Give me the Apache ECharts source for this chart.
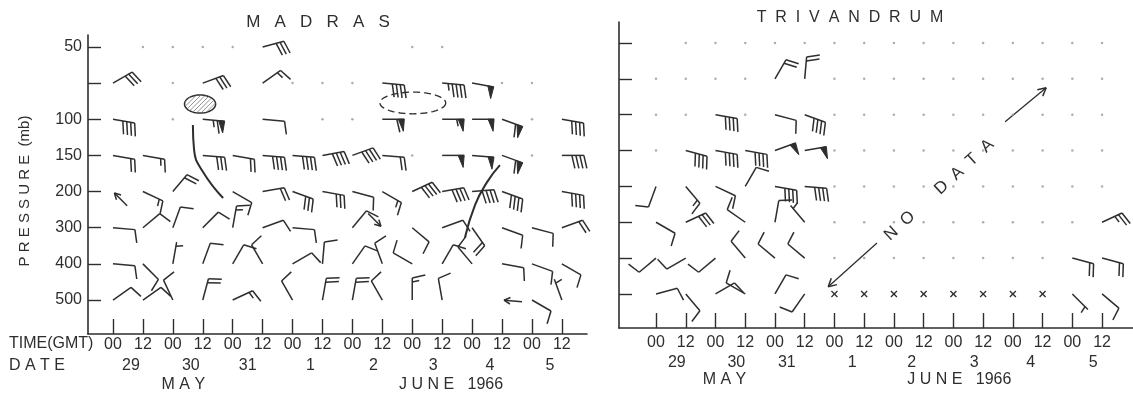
<!DOCTYPE html>
<html>
<head>
<meta charset="utf-8">
<script src="https://cdn.jsdelivr.net/npm/echarts@6/dist/echarts.min.js"></script>
<style>
  html, body { margin: 0; padding: 0; background: #fff; }
  #chart { width: 1133px; height: 394px; }
</style>
</head>
<body>
<div id="chart"></div>
<script>
// time axis: 29 May 00 GMT .. 5 June 12 GMT, one tick per sounding
const timeTicks = [0, 1, 2, 3, 4, 5, 6, 7, 8, 9, 10, 11, 12, 13, 14, 15];
const timeLabels = ['00', '12', '00', '12', '00', '12', '00', '12', '00', '12', '00', '12', '00', '12', '00', '12'];
const dateLabels = ['29', '30', '31', '1', '2', '3', '4', '5'];
const madrasDatePos = [0.6, 2.6, 4.5, 6.6, 8.7, 10.7, 12.6, 14.6];
const trivDatePos = [0.7, 2.7, 4.4, 6.6, 8.6, 10.7, 12.6, 14.7];
const monthLabels = ['M A Y', 'J U N E   1966'];
const madrasMonthPos = [2.35, 11.3];
const trivMonthPos = [2.3, 10.2];

// pressure levels (mb), top to bottom
const levels = ['50', '70', '100', '150', '200', '300', '400', '500'];
const levelTicks = [0, 1, 2, 3, 4, 5, 6, 7];
const levelLabelTicks = [0, 2, 3, 4, 5, 6, 7];

// winds: [time index, direction (deg, from), speed (kt)]
const madras50 = [[5, 75, 30]];
const madras70 = [[0, 60, 30], [3, 70, 30], [5, 55, 15], [9, 95, 40], [11, 95, 45], [12, 100, 50]];
const madras100 = [[0, 100, 40], [3, 95, 65], [5, 95, 10], [9, 90, 60], [11, 90, 55], [12, 90, 50], [13, 110, 60], [15, 100, 40]];
const madras150 = [[0, 100, 20], [1, 100, 15], [3, 95, 30], [4, 100, 20], [5, 95, 40], [6, 95, 40], [7, 80, 40], [8, 70, 40], [9, 95, 20], [11, 90, 50], [12, 95, 50], [13, 110, 60], [15, 90, 40]];
const madras200 = [[1, 115, 15], [2, 40, 20], [4, 120, 10], [5, 80, 20], [6, 110, 30], [7, 100, 30], [8, 105, 10], [9, 120, 15], [10, 65, 40], [11, 80, 40], [12, 85, 40], [13, 110, 40], [15, 100, 40]];
const madras300 = [[0, 95, 10], [1, 50, 10], [2, 20, 10], [3, 45, 10], [4, 10, 15], [5, 70, 10], [6, 95, 10], [8, 40, 10], [10, 130, 10], [11, 70, 10], [12, 145, 20], [13, 110, 10], [14, 105, 10], [15, 70, 20]];
const madras400 = [[0, 95, 10], [1, 135, 10], [2, 10, 5], [3, 20, 10], [4, 30, 10], [5, 330, 10], [6, 60, 10], [7, 5, 10], [8, 35, 10], [9, 340, 10], [10, 300, 10], [11, 30, 10], [12, 320, 10], [13, 100, 10], [14, 110, 10], [15, 120, 10]];
const madras500 = [[0, 55, 10], [1, 55, 10], [2, 335, 10], [3, 15, 20], [4, 65, 15], [6, 330, 10], [7, 10, 20], [8, 10, 20], [9, 330, 10], [10, 0, 15], [11, 350, 10], [14, 120, 10], [15, 340, 5]];
// light winds shown as arrows: [time index, level index, direction from]
const madrasArrows = [[0, 4, 135], [9, 5, 315], [13, 7, 95]];
// soundings with no wind at that level: [time index, level index]
const madrasDots = [[1, 0], [2, 0], [3, 0], [4, 0], [10, 0], [11, 0], [2, 1], [6, 1], [7, 1], [8, 1], [13, 1], [14, 1], [2, 2], [7, 2], [8, 2], [14, 2], [10, 3], [14, 3]];

const triv70 = [[4, 30, 20], [5, 5, 20]];
const triv100 = [[2, 100, 40], [4, 105, 10], [5, 110, 40]];
const triv150 = [[1, 105, 40], [2, 100, 40], [3, 100, 40], [4, 70, 50], [5, 80, 50]];
const triv200 = [[0, 200, 10], [1, 140, 15], [2, 115, 10], [3, 30, 10], [4, 100, 40], [5, 95, 40]];
const triv300 = [[0, 120, 10], [1, 65, 30], [3, 305, 10], [4, 10, 10], [5, 320, 5], [15, 65, 25]];
const triv400 = [[0, 230, 10], [1, 240, 10], [2, 230, 10], [3, 320, 10], [4, 310, 10], [5, 310, 10], [14, 105, 20], [15, 105, 20]];
const triv500 = [[0, 75, 10], [1, 140, 10], [2, 60, 10], [3, 300, 10], [4, 30, 10], [5, 215, 10], [14, 135, 5], [15, 130, 10]];
// Trivandrum dots per level (time indices) and missing 500 mb reports (x)
const trivDotCols = [
  [1, 2, 3, 4, 5, 6, 7, 8, 9, 10, 11, 12, 13, 14, 15],
  [0, 1, 2, 3, 6, 7, 8, 9, 10, 11, 12, 13, 14, 15],
  [0, 1, 3, 6, 7, 8, 9, 10, 11, 12, 13, 14, 15],
  [0, 6, 7, 8, 9, 10, 11, 12, 13, 14, 15],
  [6, 7, 8, 9, 10, 11, 12, 13, 14, 15],
  [6, 7, 8, 9, 10, 11, 12, 13, 14],
  [6, 7, 8, 9, 10, 11, 12, 13],
  []
];
const trivCrosses = [[6, 7], [7, 7], [8, 7], [9, 7], [10, 7], [11, 7], [12, 7], [13, 7]];

// Madras analysis: trough lines and shaded / dashed areas (time index, level index)
const troughWest = [[2.67, 2.16], [2.71, 2.85], [3.01, 3.46], [3.68, 4.18]];
const troughEast = [[12.93, 3.27], [12.5, 3.74], [12.1, 4.37], [11.76, 5.28]];
const hatchedArea = [[2.91, 1.58, 0.52, 0.25]];
const dashedArea = [[10.02, 1.55, 1.1, 0.3]];
// Trivandrum "NO DATA" arrows: [x1, y1, x2(head), y2(head)] and text centre
const noDataArrows = [[7.43, 5.58, 5.79, 6.8], [11.74, 2.2, 13.12, 1.25]];
const noDataText = [[9.52, 4.1]];

const INK = '#2e2e2e';
const FONT = 'Liberation Sans';

function withLevel(rows) {
  let out = [];
  rows.forEach((row, j) => row.forEach(r => out.push([r[0], j, r[1], r[2]])));
  return out;
}
const madrasWinds = withLevel([madras50, madras70, madras100, madras150, madras200, madras300, madras400, madras500]);
const trivWinds = withLevel([[], triv70, triv100, triv150, triv200, triv300, triv400, triv500]);
let trivDots = [];
trivDotCols.forEach((cols, j) => cols.forEach(i => trivDots.push([i, j])));

const lineStyle = { stroke: INK, lineWidth: 1.5, fill: null };

function drawBarb(params, api) {
  const p = api.coord([api.value(0), api.value(1)]);
  const th = api.value(2) * Math.PI / 180;
  const spd = api.value(3);
  const sx = Math.sin(th), sy = -Math.cos(th);
  const bx = Math.cos(th), by = Math.sin(th);
  const L = 22;
  const tx = p[0] + sx * L, ty = p[1] + sy * L;
  const kids = [{ type: 'line', shape: { x1: p[0], y1: p[1], x2: tx, y2: ty }, style: lineStyle }];
  const flags = Math.floor(spd / 50);
  const rest = spd - flags * 50;
  const full = Math.floor(rest / 10);
  const half = rest % 10 >= 5 ? 1 : 0;
  let d = 0;
  for (let k = 0; k < flags; k++) {
    const ax = tx - sx * d, ay = ty - sy * d;
    const cx = tx - sx * (d + 6), cy = ty - sy * (d + 6);
    kids.push({ type: 'polygon', shape: { points: [[ax, ay], [cx, cy], [ax + bx * 12 - sx * 1, ay + by * 12 - sy * 1]] },
      style: { fill: INK, stroke: INK, lineWidth: 1 } });
    d += 7.5;
  }
  for (let k = 0; k < full; k++) {
    const ax = tx - sx * d, ay = ty - sy * d;
    kids.push({ type: 'line', shape: { x1: ax, y1: ay, x2: ax + bx * 13 + sx * 3, y2: ay + by * 13 + sy * 3 }, style: lineStyle });
    d += 4;
  }
  if (half) {
    if (d === 0) d = 4;
    const ax = tx - sx * d, ay = ty - sy * d;
    kids.push({ type: 'line', shape: { x1: ax, y1: ay, x2: ax + bx * 7 + sx * 1.5, y2: ay + by * 7 + sy * 1.5 }, style: lineStyle });
  }
  return { type: 'group', children: kids };
}

function headLines(hx, hy, ux, uy, len) {
  // ux,uy: unit vector pointing from head back toward the tail
  const a = 28 * Math.PI / 180;
  const out = [];
  [a, -a].forEach(r => {
    const vx = ux * Math.cos(r) - uy * Math.sin(r);
    const vy = ux * Math.sin(r) + uy * Math.cos(r);
    out.push({ type: 'line', shape: { x1: hx, y1: hy, x2: hx + vx * len, y2: hy + vy * len }, style: lineStyle });
  });
  return out;
}

function drawArrow(params, api) {
  const p = api.coord([api.value(0), api.value(1)]);
  const th = api.value(2) * Math.PI / 180;
  const sx = Math.sin(th), sy = -Math.cos(th);
  const hx = p[0] + sx * 2, hy = p[1] + sy * 2;
  const kids = [{ type: 'line', shape: { x1: hx, y1: hy, x2: p[0] + sx * 20, y2: p[1] + sy * 20 }, style: lineStyle }];
  return { type: 'group', children: kids.concat(headLines(hx, hy, sx, sy, 7)) };
}

function drawCross(params, api) {
  const p = api.coord([api.value(0), api.value(1)]);
  const r = 3;
  const st = { stroke: INK, lineWidth: 1.3 };
  return { type: 'group', children: [
    { type: 'line', shape: { x1: p[0] - r, y1: p[1] - r, x2: p[0] + r, y2: p[1] + r }, style: st },
    { type: 'line', shape: { x1: p[0] - r, y1: p[1] + r, x2: p[0] + r, y2: p[1] - r }, style: st }
  ] };
}

function ellipsePoints(c, a, b) {
  const pts = [];
  for (let k = 0; k < 48; k++) {
    const t = k / 48 * Math.PI * 2;
    pts.push([c[0] + a * Math.cos(t), c[1] + b * Math.sin(t)]);
  }
  return pts;
}

function drawHatched(params, api) {
  const c = api.coord([api.value(0), api.value(1)]);
  const sz = api.size([api.value(2), api.value(3)]);
  const a = sz[0], b = sz[1];
  const kids = [{ type: 'polygon', shape: { points: ellipsePoints(c, a, b) }, style: { fill: null, stroke: INK, lineWidth: 1.5 } }];
  const A = 1 / (a * a) + 1 / (b * b);
  for (let k = -(a + b) + 3; k < a + b; k += 4.5) {
    const B = -2 * k / (b * b), C = k * k / (b * b) - 1;
    const disc = B * B - 4 * A * C;
    if (disc <= 0) continue;
    const x1 = (-B - Math.sqrt(disc)) / (2 * A), x2 = (-B + Math.sqrt(disc)) / (2 * A);
    kids.push({ type: 'line', shape: { x1: c[0] + x1, y1: c[1] + k - x1, x2: c[0] + x2, y2: c[1] + k - x2 },
      style: { stroke: '#777', lineWidth: 0.8 } });
  }
  return { type: 'group', children: kids };
}

function drawDashed(params, api) {
  const c = api.coord([api.value(0), api.value(1)]);
  const sz = api.size([api.value(2), api.value(3)]);
  return { type: 'polygon', shape: { points: ellipsePoints(c, sz[0], sz[1]) },
    style: { fill: null, stroke: INK, lineWidth: 1.3, lineDash: [7, 4] } };
}

function drawNoDataArrow(params, api) {
  const t = api.coord([api.value(0), api.value(1)]);
  const h = api.coord([api.value(2), api.value(3)]);
  const len = Math.hypot(t[0] - h[0], t[1] - h[1]);
  const ux = (t[0] - h[0]) / len, uy = (t[1] - h[1]) / len;
  const kids = [{ type: 'line', shape: { x1: t[0], y1: t[1], x2: h[0], y2: h[1] }, style: { stroke: INK, lineWidth: 1.3 } }];
  return { type: 'group', children: kids.concat(headLines(h[0], h[1], ux, uy, 9)) };
}

function drawNoDataText(params, api) {
  const c = api.coord([api.value(0), api.value(1)]);
  const a1 = api.coord([noDataArrows[0][2], noDataArrows[0][3]]);
  const a2 = api.coord([noDataArrows[1][2], noDataArrows[1][3]]);
  const rot = Math.atan2(a1[1] - a2[1], a2[0] - a1[0]);
  return { type: 'text', x: c[0], y: c[1], rotation: rot,
    style: { text: 'N  O       D  A  T  A', fontSize: 17, fontFamily: FONT, fill: INK, align: 'center', verticalAlign: 'middle' } };
}

function pickLabel(positions, labels) {
  return v => {
    const k = positions.findIndex(p => Math.abs(p - v) < 1e-6);
    return k < 0 ? '' : labels[k];
  };
}

function timeAxis(grid, min, max, margin) {
  return {
    type: 'value', gridIndex: grid, min: min, max: max, position: 'bottom',
    axisLine: { show: true, onZero: false, lineStyle: { color: INK, width: 1.6 } },
    axisTick: { show: true, inside: true, length: 15, customValues: timeTicks, lineStyle: { color: INK, width: 1.4 } },
    axisLabel: { show: true, customValues: timeTicks, margin: margin, formatter: v => timeLabels[Math.round(v)],
      fontSize: 16, fontFamily: FONT, color: INK },
    splitLine: { show: false }
  };
}

function textAxis(grid, min, max, offset, positions, labels) {
  return {
    type: 'value', gridIndex: grid, min: min, max: max, position: 'bottom', offset: offset,
    axisLine: { show: false, onZero: false }, axisTick: { show: false },
    axisLabel: { show: true, customValues: positions, margin: 0, formatter: pickLabel(positions, labels),
      fontSize: 16, fontFamily: FONT, color: INK },
    splitLine: { show: false }
  };
}

function levelAxis(grid, min, max, showLabels) {
  return {
    type: 'value', gridIndex: grid, min: min, max: max, inverse: true,
    axisLine: { show: true, onZero: false, lineStyle: { color: INK, width: 1.6 } },
    axisTick: { show: true, inside: true, length: 13, customValues: levelTicks, lineStyle: { color: INK, width: 1.4 } },
    axisLabel: { show: showLabels, customValues: levelLabelTicks, margin: 6, formatter: v => levels[Math.round(v)],
      fontSize: 16, fontFamily: FONT, color: INK },
    splitLine: { show: false }
  };
}

const M_X = [-0.835, 15.84], M_Y = [-0.33, 7.94];
const T_X = [-1.245, 16.04], T_Y = [-0.586, 7.95];

const option = {
  animation: false,
  backgroundColor: '#fff',
  grid: [
    { left: 88, top: 35, width: 499, height: 299 },
    { left: 619, top: 22, width: 514, height: 306 }
  ],
  xAxis: [
    timeAxis(0, M_X[0], M_X[1], 3),
    textAxis(0, M_X[0], M_X[1], 24, madrasDatePos, dateLabels),
    textAxis(0, M_X[0], M_X[1], 43, madrasMonthPos, monthLabels),
    timeAxis(1, T_X[0], T_X[1], 7),
    textAxis(1, T_X[0], T_X[1], 27, trivDatePos, dateLabels),
    textAxis(1, T_X[0], T_X[1], 44, trivMonthPos, monthLabels)
  ],
  yAxis: [
    levelAxis(0, M_Y[0], M_Y[1], true),
    levelAxis(1, T_Y[0], T_Y[1], false)
  ],
  graphic: [
    { type: 'text', x: 318, y: 22, style: { text: 'M   A   D   R   A   S', fontSize: 17, fontFamily: FONT, fill: INK, align: 'center', verticalAlign: 'middle' } },
    { type: 'text', x: 850, y: 18, style: { text: 'T  R  I  V  A  N  D  R  U  M', fontSize: 16, fontFamily: FONT, fill: INK, align: 'center', verticalAlign: 'middle' } },
    { type: 'text', x: 25, y: 191, rotation: Math.PI / 2, style: { text: 'P R E S S U R E  (mb)', fontSize: 15, fontFamily: FONT, fill: INK, align: 'center', verticalAlign: 'middle' } },
    { type: 'text', x: 9, y: 344, style: { text: 'TIME(GMT)', fontSize: 16, fontFamily: FONT, fill: INK, align: 'left', verticalAlign: 'middle' } },
    { type: 'text', x: 9, y: 366, style: { text: 'D A T E', fontSize: 16, fontFamily: FONT, fill: INK, align: 'left', verticalAlign: 'middle' } }
  ],
  series: [
    { type: 'scatter', xAxisIndex: 0, yAxisIndex: 0, data: madrasDots, symbolSize: 2.5, itemStyle: { color: '#999' }, silent: true },
    { type: 'custom', xAxisIndex: 0, yAxisIndex: 0, data: madrasWinds, renderItem: drawBarb, silent: true },
    { type: 'custom', xAxisIndex: 0, yAxisIndex: 0, data: madrasArrows, renderItem: drawArrow, silent: true },
    { type: 'custom', xAxisIndex: 0, yAxisIndex: 0, data: hatchedArea, renderItem: drawHatched, silent: true },
    { type: 'custom', xAxisIndex: 0, yAxisIndex: 0, data: dashedArea, renderItem: drawDashed, silent: true },
    { type: 'line', xAxisIndex: 0, yAxisIndex: 0, data: troughWest, smooth: 0.5, symbol: 'none', lineStyle: { color: INK, width: 2 }, silent: true },
    { type: 'line', xAxisIndex: 0, yAxisIndex: 0, data: troughEast, smooth: 0.5, symbol: 'none', lineStyle: { color: INK, width: 2 }, silent: true },
    { type: 'scatter', xAxisIndex: 3, yAxisIndex: 1, data: trivDots, symbolSize: 2.5, itemStyle: { color: '#999' }, silent: true },
    { type: 'custom', xAxisIndex: 3, yAxisIndex: 1, data: trivWinds, renderItem: drawBarb, silent: true },
    { type: 'custom', xAxisIndex: 3, yAxisIndex: 1, data: trivCrosses, renderItem: drawCross, silent: true },
    { type: 'custom', xAxisIndex: 3, yAxisIndex: 1, data: noDataArrows, renderItem: drawNoDataArrow, silent: true },
    { type: 'custom', xAxisIndex: 3, yAxisIndex: 1, data: noDataText, renderItem: drawNoDataText, silent: true }
  ]
};

const chart = echarts.init(document.getElementById('chart'));
chart.setOption(option);
</script>
</body>
</html>
